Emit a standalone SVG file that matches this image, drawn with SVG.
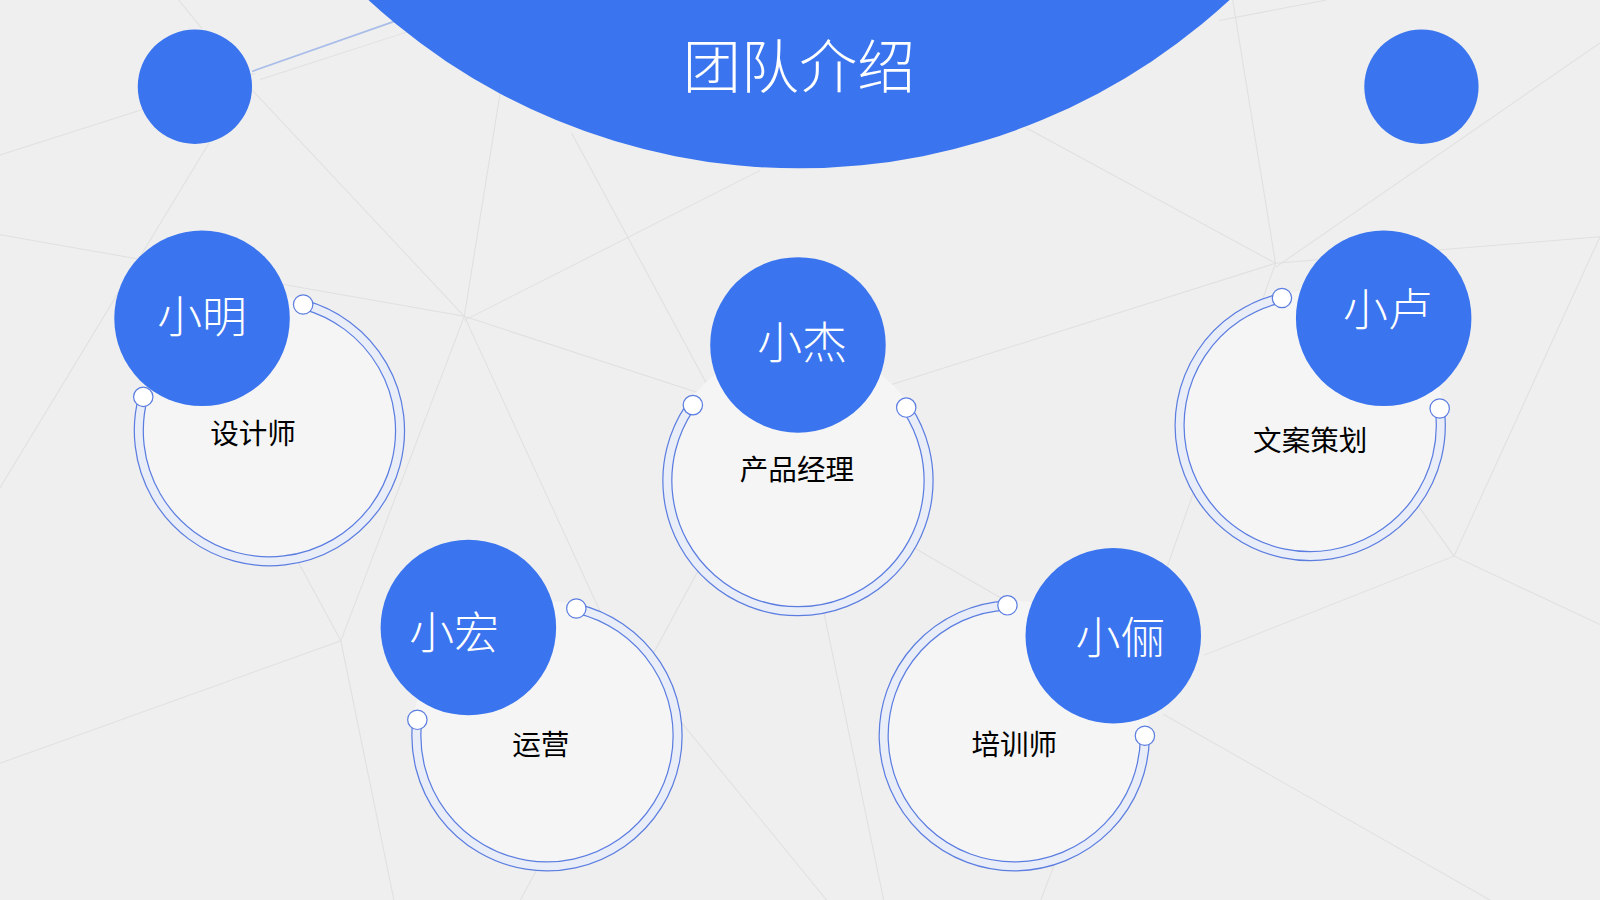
<svg xmlns="http://www.w3.org/2000/svg" width="1600" height="900" viewBox="0 0 1600 900">
<style>
.bg{fill:#efefef}
.net{fill:none;stroke:#e0e0e0;stroke-width:1}
.blue{fill:#3a74ee}
.disc{fill:#f5f5f6}
.bandO{fill:none;stroke:#5b7de0;stroke-width:10}
.bandI{fill:none;stroke:#e9edf8;stroke-width:7.6}
.dot{fill:#ffffff;stroke:#5b7de0;stroke-width:1.2}
.name{font-family:"Noto Sans CJK SC","Noto Sans",sans-serif;font-size:44px;font-weight:300;fill:#ffffff;text-anchor:middle;dominant-baseline:central}
.role{font-family:"Noto Sans CJK SC","Noto Sans",sans-serif;font-size:28px;font-weight:400;fill:#000000;text-anchor:middle;dominant-baseline:central}
.title{font-family:"Noto Sans CJK SC","Noto Sans",sans-serif;font-size:57px;font-weight:300;fill:#ffffff;text-anchor:middle;dominant-baseline:central}
</style>
<rect class="bg" x="0" y="0" width="1600" height="900"/>
<g transform="scale(1.020408)">
<g id="background-net">
<polyline class="net" points="0,152 250,72"/>
<polyline class="net" points="255,78 403,30"/>
<polyline class="net" points="175,0 198,28"/>
<polyline class="net" points="205,140 0,478"/>
<polyline class="net" points="247,88 455,310"/>
<polyline class="net" points="490,92 455,310"/>
<polyline class="net" points="745,167 455,314"/>
<polyline class="net" points="0,230 455,310"/>
<polyline class="net" points="455,310 700,390 770,470"/>
<polyline class="net" points="560,130 700,390"/>
<polyline class="net" points="455,310 334,628 0,748"/>
<polyline class="net" points="334,628 386,882"/>
<polyline class="net" points="200,380 334,628"/>
<polyline class="net" points="455,310 600,625 810,882"/>
<polyline class="net" points="770,400 510,882"/>
<polyline class="net" points="770,420 866,882"/>
<polyline class="net" points="780,470 1005,600"/>
<polyline class="net" points="1208,0 1250,258"/>
<polyline class="net" points="1005,125 1250,258"/>
<polyline class="net" points="1568,42 1250,262"/>
<polyline class="net" points="1195,20 1300,0"/>
<polyline class="net" points="1250,258 1568,232"/>
<polyline class="net" points="1250,258 870,378"/>
<polyline class="net" points="1250,258 1135,580 1020,882"/>
<polyline class="net" points="1425,545 1568,612"/>
<polyline class="net" points="1425,545 1568,232"/>
<polyline class="net" points="1425,545 1300,370"/>
<polyline class="net" points="1425,545 1180,642"/>
<polyline class="net" points="1140,700 1460,882"/>
</g>
<g id="connectors">
<line x1="247" y1="70" x2="392" y2="19" stroke="#a9bde9" stroke-width="1.6"/>
</g>
<g id="header">
<circle class="blue" cx="783" cy="-457" r="622"/>
<text class="title" x="783" y="62">团队介绍</text>
</g>
<g id="corner-left">
<circle class="blue" cx="191" cy="85" r="56"/>
</g>
<g id="corner-right">
<circle class="blue" cx="1393" cy="85" r="56"/>
</g>
<g id="node-xiaoming">
<circle class="disc" cx="264" cy="422" r="132"/>
<path class="bandO" d="M297.1 298.4 A128 128 0 1 1 140.4 388.9"/>
<path class="bandI" d="M297.1 298.4 A128 128 0 1 1 140.4 388.9"/>
<circle class="blue" cx="198" cy="312" r="86"/>
<circle class="dot" cx="297.1" cy="298.4" r="9.5"/>
<circle class="dot" cx="140.4" cy="388.9" r="9.5"/>
<text class="name" x="198" y="307">小明</text>
<text class="role" x="248" y="423">设计师</text>
</g>
<g id="node-xiaojie">
<circle class="disc" cx="782" cy="471" r="132"/>
<path class="bandO" d="M888.1 399.4 A128 128 0 1 1 675.9 399.4"/>
<path class="bandI" d="M888.1 399.4 A128 128 0 1 1 675.9 399.4"/>
<circle class="blue" cx="782" cy="338" r="86"/>
<circle class="dot" cx="888.1" cy="399.4" r="9.5"/>
<circle class="dot" cx="679" cy="397" r="9.5"/>
<text class="name" x="786" y="333">小杰</text>
<text class="role" x="781" y="458">产品经理</text>
</g>
<g id="node-xiaolu">
<circle class="disc" cx="1284" cy="417" r="132"/>
<path class="bandO" d="M1410.9 400.3 A128 128 0 1 1 1256.3 292.0"/>
<path class="bandI" d="M1410.9 400.3 A128 128 0 1 1 1256.3 292.0"/>
<circle class="blue" cx="1356" cy="312" r="86"/>
<circle class="dot" cx="1410.9" cy="400.3" r="9.5"/>
<circle class="dot" cx="1256.3" cy="292.0" r="9.5"/>
<text class="name" x="1360" y="300">小卢</text>
<text class="role" x="1284" y="430">文案策划</text>
</g>
<g id="node-xiaohong">
<circle class="disc" cx="536" cy="721" r="132"/>
<path class="bandO" d="M564.8 596.3 A128 128 0 1 1 409.0 705.4"/>
<path class="bandI" d="M564.8 596.3 A128 128 0 1 1 409.0 705.4"/>
<circle class="blue" cx="459" cy="615" r="86"/>
<circle class="dot" cx="564.8" cy="596.3" r="9.5"/>
<circle class="dot" cx="409.0" cy="705.4" r="9.5"/>
<text class="name" x="445" y="617">小宏</text>
<text class="role" x="530" y="728">运营</text>
</g>
<g id="node-xiaoli">
<circle class="disc" cx="994" cy="721" r="132"/>
<path class="bandO" d="M1122 721 A128 128 0 1 1 987.3 593.2"/>
<path class="bandI" d="M1122 721 A128 128 0 1 1 987.3 593.2"/>
<circle class="blue" cx="1091" cy="623" r="86"/>
<circle class="dot" cx="1122" cy="721" r="9.5"/>
<circle class="dot" cx="987.3" cy="593.2" r="9.5"/>
<text class="name" x="1098" y="622">小俪</text>
<text class="role" x="994" y="728">培训师</text>
</g>
</g>
</svg>
